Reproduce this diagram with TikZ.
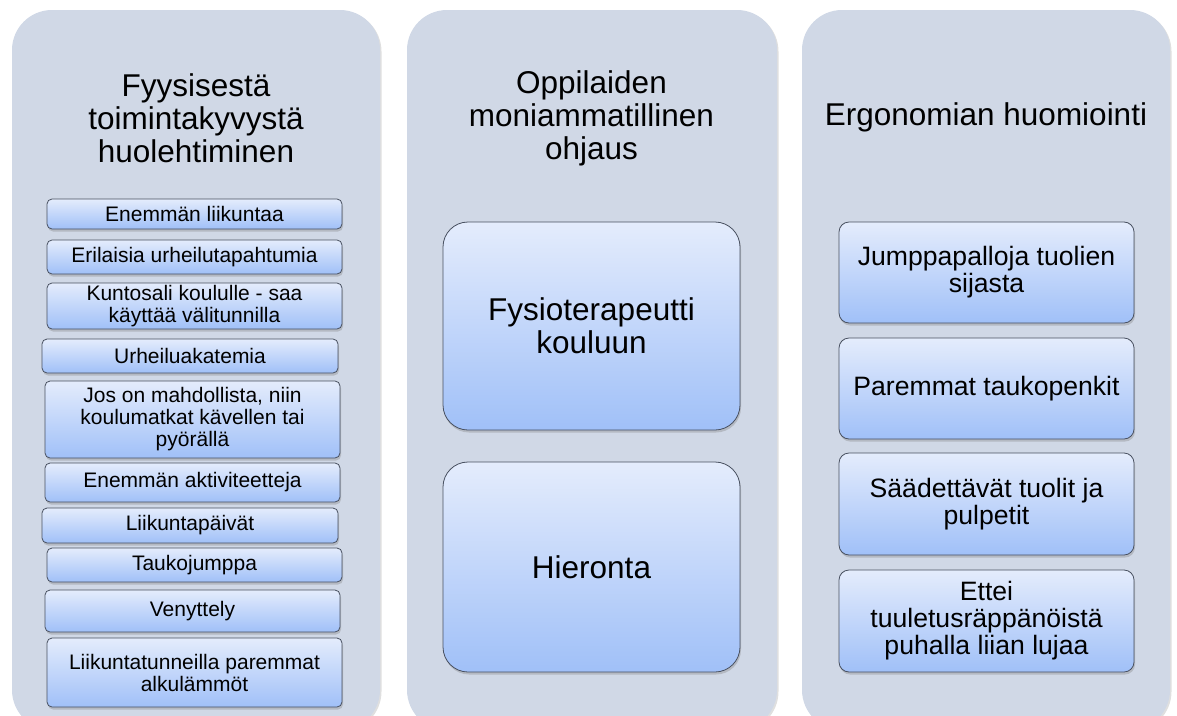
\documentclass[tikz,border=0pt]{standalone}
\usepackage{fontspec}
\setmainfont{Liberation Sans}
\usetikzlibrary{shadows}
\definecolor{panelfill}{RGB}{208,216,230}
\definecolor{boxtop}{RGB}{228,236,252}
\definecolor{boxbot}{RGB}{160,192,248}
\definecolor{boxline}{RGB}{72,80,96}
\tikzset{
  panel/.style={fill=panelfill, rounded corners=40pt, inner sep=0pt,
    drop shadow={opacity=0.25, shadow xshift=1.5pt, shadow yshift=-1.5pt, fill=gray}},
  ttl/.style={align=center, font=\fontsize{31.5}{33}\selectfont, inner sep=0pt},
  gbox/.style={draw=boxline, line width=0.8pt, top color=boxtop, bottom color=boxbot,
    align=center, inner sep=2pt,
    drop shadow={opacity=0.35, shadow xshift=1pt, shadow yshift=-2.5pt}},
  lbox/.style={gbox, rounded corners=5pt, font=\fontsize{21}{22}\selectfont},
  mbox/.style={gbox, rounded corners=25pt, font=\fontsize{31.5}{33}\selectfont, minimum width=297pt},
  rbox/.style={gbox, rounded corners=10pt, font=\fontsize{26.6}{27}\selectfont, minimum width=295pt, minimum height=101pt},
}
\begin{document}
\begin{tikzpicture}[x=1pt, y=-1pt]
\useasboundingbox (0,0) rectangle (1177,715);
% panels
\node[panel, minimum width=368pt, minimum height=720pt] (p1) at (196,370) {};
\node[panel, minimum width=370pt, minimum height=720pt] (p2) at (592,370) {};
\node[panel, minimum width=368pt, minimum height=720pt] (p3) at (986,370) {};
% titles
\node[ttl] (t1) at (196,118) {Fyysisestä\\toimintakyvystä\\huolehtiminen};
\node[ttl] (t2) at (591.5,118) {Oppilaiden\\moniammatillinen\\ohjaus};
\node[ttl] (t3) at (986,117) {Ergonomian huomiointi};
% left boxes
\node[lbox, minimum width=295pt, minimum height=30pt] (l1) at (194.5,214) {Enemmän liikuntaa};
\node[lbox, minimum width=295pt, minimum height=34pt] (l2) at (194.5,257) {Erilaisia urheilutapahtumia};
\node[lbox, minimum width=295pt, minimum height=46pt] (l3) at (194.5,306) {Kuntosali koululle - saa\\käyttää välitunnilla};
\node[lbox, minimum width=296pt, minimum height=34pt] (l4) at (190,356) {Urheiluakatemia};
\node[lbox, minimum width=295pt, minimum height=77pt] (l5) at (192.5,419.5) {Jos on mahdollista, niin\\koulumatkat kävellen tai\\pyörällä};
\node[lbox, minimum width=295pt, minimum height=39pt] (l6) at (192.5,482.5) {Enemmän aktiviteetteja};
\node[lbox, minimum width=296pt, minimum height=35pt] (l7) at (190,525.5) {Liikuntapäivät};
\node[lbox, minimum width=295pt, minimum height=34pt] (l8) at (194.5,565) {Taukojumppa};
\node[lbox, minimum width=295pt, minimum height=42pt] (l9) at (192.5,611) {Venyttely};
\node[lbox, minimum width=295pt, minimum height=69pt] (l10) at (194.5,672.5) {Liikuntatunneilla paremmat\\alkulämmöt};
% middle boxes
\node[mbox, minimum height=208pt] (m1) at (591.5,326) {Fysioterapeutti\\kouluun};
\node[mbox, minimum height=210pt] (m2) at (591.5,567) {Hieronta};
% right boxes
\node[rbox] (r1) at (986.5,272.5) {Jumppapalloja tuolien\\sijasta};
\node[rbox] (r2) at (986.5,388.5) {Paremmat taukopenkit};
\node[rbox, minimum height=102pt] (r3) at (986.5,504) {Säädettävät tuolit ja\\pulpetit};
\node[rbox, minimum height=102pt] (r4) at (986.5,621) {Ettei\\tuuletusräppänöistä\\puhalla liian lujaa};
\end{tikzpicture}
\end{document}
